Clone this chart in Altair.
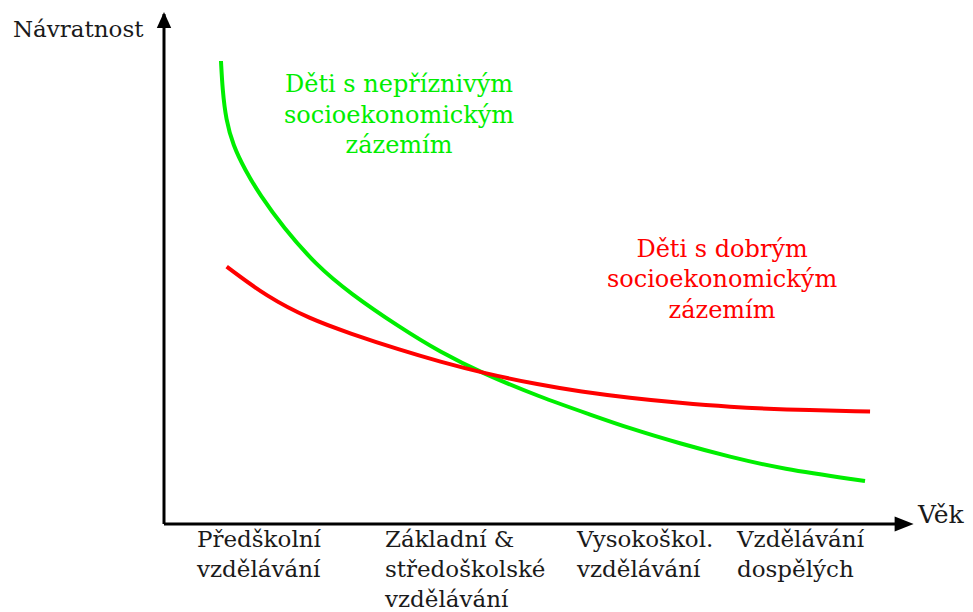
import altair as alt
import pandas as pd

# ---- data (units: X = age axis 0..100, Y = return axis 0..100) ----
green_x = [7.70, 7.91, 8.38, 9.32, 10.95, 12.97, 16.08, 20.54, 25.14, 31.89, 37.30,
           43.11, 50.81, 57.57, 62.97, 69.73, 76.49, 83.24, 94.73]
green_y = [92.6, 86.8, 80.8, 75.8, 70.8, 65.8, 59.4, 51.8, 46.14, 39.3, 34.4,
           30.1, 25.4, 21.9, 19.1, 16.1, 13.4, 11.1, 8.6]
red_x = [8.47, 13.88, 19.73, 25.14, 31.89, 37.30, 43.11, 50.81, 56.22, 62.97,
         69.73, 76.49, 83.24, 95.41]
red_y = [51.46, 45.46, 41.0, 38.1, 34.8, 32.46, 30.2, 27.8, 26.5, 25.2,
         24.2, 23.4, 22.9, 22.5]

series_names = ["Děti s nepříznivým socioekonomickým zázemím",
                "Děti s dobrým socioekonomickým zázemím"]
series_colors = ["#00ee00", "#ff0000"]

y_title = "Návratnost"
x_title = "Věk"

categories = [["Předškolní", "vzdělávání"],
              ["Základní &", "středoškolské", "vzdělávání"],
              ["Vysokoškol.", "vzdělávání"],
              ["Vzdělávání", "dospělých"]]
category_x = [4.46, 29.86, 55.81, 77.43]
category_line_y = [-4.6, -10.6, -16.6]

green_label = ["Děti s nepříznivým", "socioekonomickým", "zázemím"]
red_label = ["Děti s dobrým", "socioekonomickým", "zázemím"]
green_label_x = 31.76
green_label_y = [86.4, 80.3, 74.2]
red_label_x = 75.41
red_label_y = [53.46, 47.4, 41.26]

x_axis_end = 100.4
y_axis_end = 102.0

# ---- scales ----
X_DOMAIN = [-21.08, 108.24]
Y_DOMAIN = [-17.6, 103.2]
xs = alt.Scale(domain=X_DOMAIN, nice=False, zero=False)
ys = alt.Scale(domain=Y_DOMAIN, nice=False, zero=False)

def X(field):
    return alt.X(field, type="quantitative", scale=xs, axis=None)

def Y(field):
    return alt.Y(field, type="quantitative", scale=ys, axis=None)

# ---- curves ----
rows = []
for i, (x, y) in enumerate(zip(green_x, green_y)):
    rows.append({"series": series_names[0], "x": x, "y": y, "o": i})
for i, (x, y) in enumerate(zip(red_x, red_y)):
    rows.append({"series": series_names[1], "x": x, "y": y, "o": i})
curves_df = pd.DataFrame(rows)

curves = alt.Chart(curves_df).mark_line(strokeWidth=4, interpolate="basis").encode(
    x=X("x"), y=Y("y"),
    color=alt.Color("series:N", scale=alt.Scale(domain=series_names, range=series_colors), legend=None),
    order="o:Q",
)

# ---- axes with arrows ----
axes_df = pd.DataFrame([
    {"axis": "x", "x": 0, "y": 0, "o": 0},
    {"axis": "x", "x": x_axis_end, "y": 0, "o": 1},
    {"axis": "y", "x": 0, "y": 0, "o": 0},
    {"axis": "y", "x": 0, "y": y_axis_end, "o": 1},
])
axes = alt.Chart(axes_df).mark_line(strokeWidth=3, color="#000000").encode(
    x=X("x"), y=Y("y"), detail="axis:N", order="o:Q"
)

arrow_x_df = pd.DataFrame([{"x": x_axis_end + 0.9, "y": 0}])
arrow_y_df = pd.DataFrame([{"x": 0, "y": y_axis_end + 0.4}])
arrow_x = alt.Chart(arrow_x_df).mark_point(
    shape="M0,0 L-2,-0.8 L-2,0.8 Z", size=361, filled=True, color="#000000", opacity=1, strokeWidth=0
).encode(x=X("x"), y=Y("y"))
arrow_y = alt.Chart(arrow_y_df).mark_point(
    shape="M0,0 L-0.9,2 L0.9,2 Z", size=256, filled=True, color="#000000", opacity=1, strokeWidth=0
).encode(x=X("x"), y=Y("y"))

# ---- texts ----
left_rows = [
    {"t": y_title, "x": -20.41, "y": 97.4, "s": 23},
    {"t": x_title, "x": 101.89, "y": 0.2, "s": 25},
]
for cx, lines in zip(category_x, categories):
    for j, line in enumerate(lines):
        left_rows.append({"t": line, "x": cx, "y": category_line_y[j], "s": 23})
left_df = pd.DataFrame(left_rows)
left_text = alt.Chart(left_df).mark_text(
    align="left", baseline="alphabetic", font="DejaVu Serif", color="#1a1a1a"
).encode(x=X("x"), y=Y("y"), text="t:N", size=alt.Size("s:Q", scale=None, legend=None))

center_rows = []
for j, line in enumerate(green_label):
    center_rows.append({"t": line, "x": green_label_x, "y": green_label_y[j], "c": series_colors[0]})
for j, line in enumerate(red_label):
    center_rows.append({"t": line, "x": red_label_x, "y": red_label_y[j], "c": series_colors[1]})
center_df = pd.DataFrame(center_rows)
center_text = alt.Chart(center_df).mark_text(
    align="center", baseline="alphabetic", font="DejaVu Serif", fontSize=24
).encode(x=X("x"), y=Y("y"), text="t:N", color=alt.Color("c:N", scale=None))

chart = alt.layer(axes, arrow_x, arrow_y, curves, left_text, center_text).properties(
    width=957, height=604, padding=0, autosize="none", background="white"
).configure_view(stroke=None)

chart.save("out.html", embed_options={"renderer": "svg", "actions": False})
